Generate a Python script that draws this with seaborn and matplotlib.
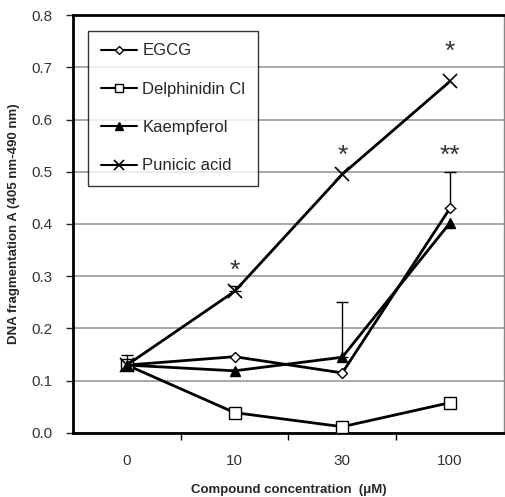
import matplotlib
matplotlib.use("Agg")
import matplotlib.pyplot as plt
import seaborn as sns
import pandas as pd

concentrations = ["0", "10", "30", "100"]
egcg = [0.130, 0.146, 0.115, 0.430]
delphinidin = [0.130, 0.039, 0.012, 0.058]
kaempferol = [0.130, 0.119, 0.145, 0.402]
punicic = [0.130, 0.271, 0.495, 0.673]

# upper error bars (only the ones visible in the figure)
err_points = ["0", "10", "30", "100"]
err_centers = [0.130, 0.271, 0.145, 0.430]
err_upper = [0.020, 0.010, 0.105, 0.070]

# significance marks
star_points = ["10", "30", "100", "100"]
star_y = [0.31, 0.53, 0.53, 0.73]
star_text = ["*", "*", "**", "*"]

series = {
    "EGCG": (egcg, dict(marker="D", ms=5, mfc="white", mew=1.0)),
    "Delphinidin Cl": (delphinidin, dict(marker="s", ms=8, mfc="white", mew=1.0)),
    "Kaempferol": (kaempferol, dict(marker="^", ms=7, mfc="black", mew=1.0)),
    "Punicic acid": (punicic, dict(marker="x", ms=10, mew=1.2)),
}
legend_ms = [4, 6, 6, 7]

sns.set_style("white")
plt.rcParams["font.family"] = ["Liberation Sans", "DejaVu Sans"]

fig = plt.figure(figsize=(5.05, 4.97), dpi=100)
ax = fig.add_axes([0.1446, 0.1288, 0.853, 0.8410])

for name, (vals, kw) in series.items():
    df = pd.DataFrame({"conc": concentrations, "A": vals})
    sns.lineplot(data=df, x="conc", y="A", ax=ax, color="black", lw=2,
                 mec="black", label=name, zorder=3, **kw)

pos = {c: i for i, c in enumerate(concentrations)}
ex = [pos[p] for p in err_points]
ax.errorbar(ex, err_centers, yerr=[[0] * len(err_upper), err_upper], fmt="none",
            ecolor="black", elinewidth=1.0, capsize=4, capthick=1.0, zorder=2)

for p, y, t in zip(star_points, star_y, star_text):
    ax.text(pos[p], y, t, ha="center", va="center", fontsize=19, color="#333333")

ax.set_xlim(-0.5, 3.5)
ax.set_ylim(0, 0.8)
ax.set_yticks([i / 10 for i in range(9)])
ax.set_yticklabels([f"{i / 10:.1f}" for i in range(9)])
ax.set_xticks(range(len(concentrations)))
ax.set_xticklabels(concentrations)
ax.set_xticks([0.5, 1.5, 2.5], minor=True)
ax.tick_params(axis="x", which="major", length=0, pad=15, labelsize=11, labelcolor="#333333")
ax.tick_params(axis="x", which="minor", length=5, width=1, direction="out", color="black", bottom=True)
ax.tick_params(axis="y", length=5, width=1, direction="out", left=True, labelsize=11,
               labelcolor="#333333", pad=10)

ax.yaxis.grid(True, color="#999999", lw=1.2)
ax.set_axisbelow(True)
for side in ["left", "bottom", "top"]:
    ax.spines[side].set_color("black")
    ax.spines[side].set_linewidth(2)
ax.spines["right"].set_color("#888888")
ax.spines["right"].set_linewidth(1)

ax.set_xlabel("Compound concentration  (μM)", fontsize=9.5, fontweight="bold", labelpad=12)
ax.set_ylabel("DNA fragmentation A (405 nm-490 nm)", fontsize=9.5, fontweight="bold", labelpad=8)

leg = ax.legend(loc="upper left", bbox_to_anchor=(0.035, 0.962), borderaxespad=0,
                fontsize=12, frameon=True, fancybox=False, edgecolor="black",
                handlelength=2.2, labelspacing=1.4, borderpad=0.75, handletextpad=0.3)
leg.get_frame().set_linewidth(1.0)
for line, ms in zip(leg.get_lines(), legend_ms):
    line.set_linewidth(1.5)
    line.set_markersize(ms)

fig.savefig("out.png", dpi=100)
